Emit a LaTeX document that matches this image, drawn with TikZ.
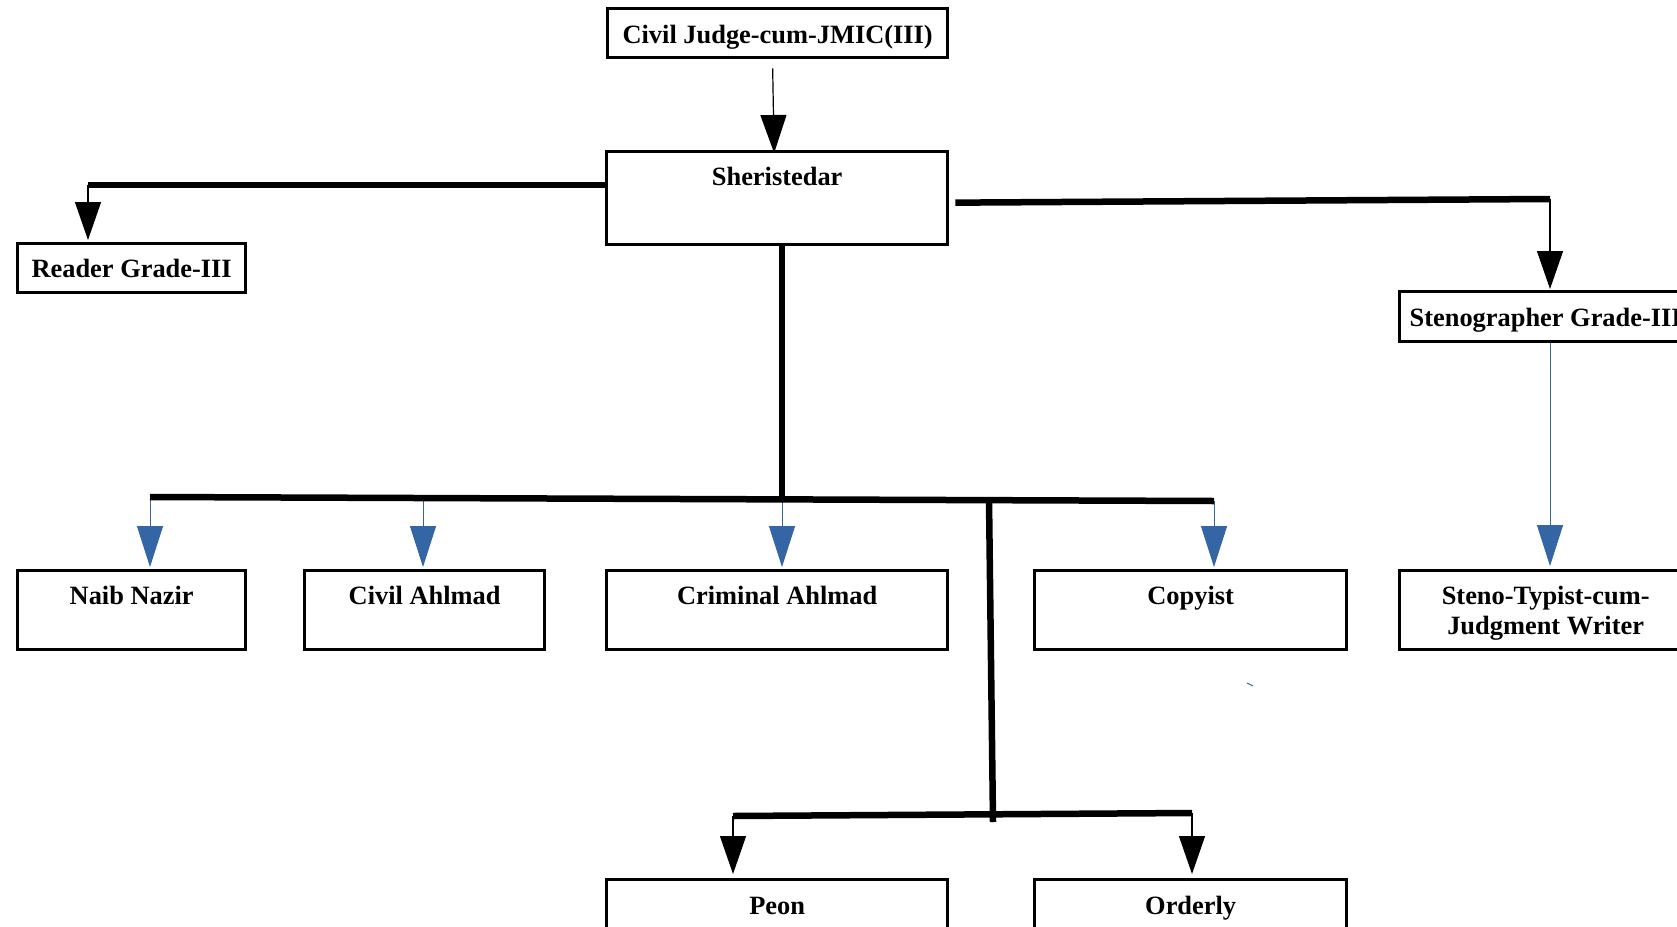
\documentclass[tikz,border=0pt]{standalone}
\usepackage{fontspec}
\setmainfont{Liberation Serif}
\usetikzlibrary{arrows.meta,calc}
\definecolor{arrowblue}{RGB}{52,101,164}
\begin{document}
\begin{tikzpicture}[x=1pt,y=-1pt,
 box/.style={draw, line width=3.3pt, inner sep=0pt, anchor=north west, font=\fontsize{26.4}{30}\selectfont\bfseries, align=center},
 rowbox/.style={box, text height=34pt, text depth=45pt},
 thickline/.style={line width=6.5pt},
 blackarrow/.style={line width=1.2pt, -{Triangle[length=38pt,width=26pt]}},
 bluearrow/.style={color=arrowblue, line width=1pt, -{Triangle[length=41pt,width=26pt]}}
]
\useasboundingbox (0,0) rectangle (1677,926);
\fill[white] (0,0) rectangle (1677,926);
\clip (0,0) rectangle (1677,926);

% boxes
\node[box, minimum width=340pt, text height=35pt, text depth=14pt] (cj) at (606,7) {Civil Judge-cum-JMIC(III)};
\node[box, minimum width=341pt, text height=33.5pt, text depth=59.5pt] (sher) at (605,150) {Sheristedar};
\node[box, minimum width=228pt, text height=34pt, text depth=15pt] (reader) at (16,242) {Reader Grade-III};
\node[box, minimum width=292pt, text height=35pt, text depth=15pt] (steno) at (1398,290) {Stenographer Grade-III};
\node[rowbox, minimum width=228pt] (naib) at (16,569) {Naib Nazir};
\node[rowbox, minimum width=240pt] (civil) at (303,569) {Civil Ahlmad};
\node[rowbox, minimum width=341pt] (crim) at (605,569) {Criminal Ahlmad};
\node[rowbox, minimum width=312pt] (copy) at (1033,569) {Copyist};
\node[box, minimum width=292pt, text height=64pt, text depth=15pt] (typist) at (1398,569) {Steno-Typist-cum-\\Judgment Writer};
\node[box, minimum width=341pt, text height=34.4pt, text depth=30pt] (peon) at (605,878) {Peon};
\node[box, minimum width=312pt, text height=34.4pt, text depth=30pt] (orderly) at (1033,878) {Orderly};

% top arrow
\draw[blackarrow] ($(cj.south)+(-5,9)$) -- ($(sher.north)+(-3,3)$);

% left branch
\coordinate (jl) at (88,185);
\draw[blackarrow] (jl) -- ($(jl |- reader.north)+(0,-2)$);
\draw[thickline] (sher.west |- jl) -- (jl);

% right branch
\coordinate (jr) at (1550,199);
\draw[blackarrow] (jr) -- ($(jr |- steno.north)+(0,-1)$);
\draw[thickline] ($(sher.east)+(6,4.5)$) -- (jr);
\draw[bluearrow] (jr |- steno.south) -- ($(jr |- typist.north)+(0,-3)$);

% middle row
\coordinate (jv) at (782,499);
\coordinate (h1) at (150,497);
\coordinate (bc) at (423,498);
\coordinate (h2) at (1214,501);
\draw[bluearrow] (h1) -- ($(h1 |- naib.north)+(0,-2)$);
\draw[bluearrow] (bc) -- ($(bc |- civil.north)+(0,-2)$);
\draw[bluearrow] (jv) -- ($(jv |- crim.north)+(0,-2)$);
\draw[bluearrow] (h2) -- ($(h2 |- copy.north)+(0,-2)$);
\draw[thickline] (jv |- sher.south) -- (jv);
\draw[thickline] (h1) -- (h2);

% lower branch
\coordinate (v2a) at (989,500);
\coordinate (v2b) at (993,822);
\coordinate (p1) at (733,816);
\coordinate (p2) at (1192,813);
\draw[blackarrow] (p1) -- ($(p1 |- peon.north)+(0,-4)$);
\draw[blackarrow] (p2) -- ($(p2 |- orderly.north)+(0,-4)$);
\draw[thickline] (v2a) -- (v2b);
\draw[thickline] (p1) -- (p2);

% stray mark
\draw[arrowblue, line width=1pt] (1247,683) -- (1253,686);
\end{tikzpicture}
\end{document}
